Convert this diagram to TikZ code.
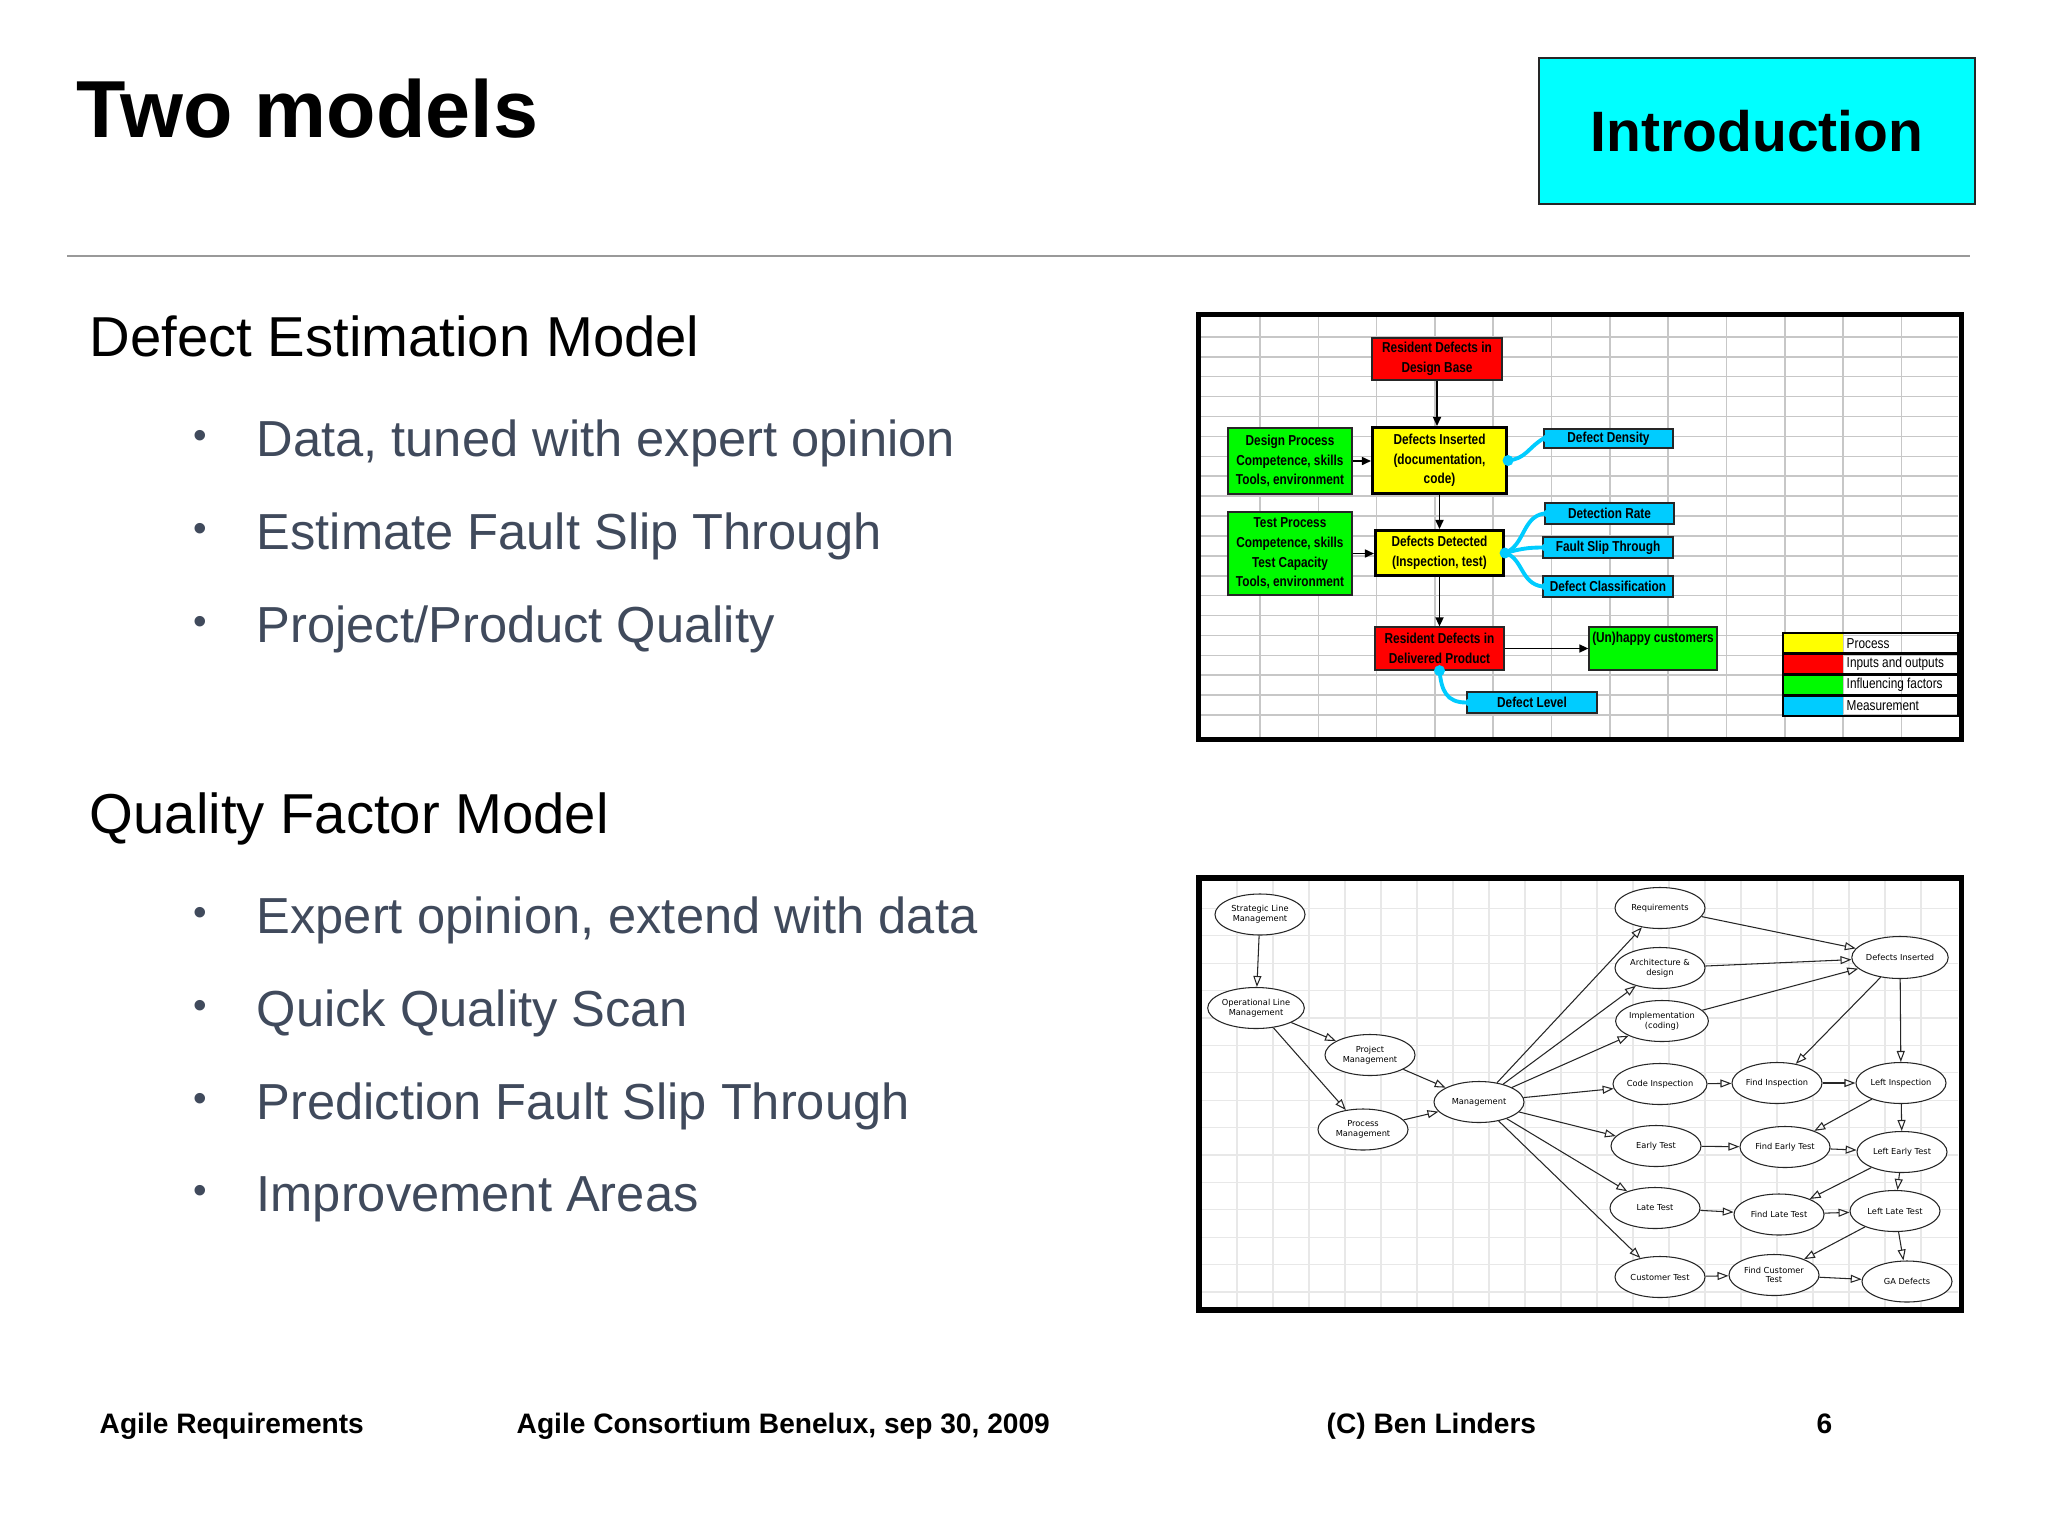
\documentclass[tikz,border=0pt]{standalone}
\usepackage{fontspec}
\setmainfont{Liberation Sans}
\newfontfamily\narrowf[FakeStretch=0.82]{Liberation Sans}
\newfontfamily\ellf{DejaVu Sans}
\usetikzlibrary{arrows.meta,shapes.geometric}
\definecolor{introcyan}{RGB}{0,255,255}
\definecolor{cyanbox}{RGB}{0,204,255}
\definecolor{redbox}{RGB}{255,0,0}
\definecolor{yellowbox}{RGB}{255,255,0}
\definecolor{greenbox}{RGB}{0,250,0}
\definecolor{bullettext}{RGB}{64,74,92}
\begin{document}
\begin{tikzpicture}[x=0.01cm,y=-0.01cm,
  heading/.style={anchor=base west, inner sep=0, font=\fontsize{16}{19}\selectfont},
  btext/.style={anchor=base west, inner sep=0, text=bullettext, font=\fontsize{14.4}{17}\selectfont},
  bul/.style={inner sep=0, text=bullettext, font=\fontsize{11}{12}\selectfont},
  foot/.style={anchor=base west, inner sep=0, font=\fontsize{8}{10}\selectfont\bfseries},
  tbox/.style={draw=black!85, line width=0.35pt, inner sep=0, align=center, font=\narrowf\bfseries\fontsize{4.1}{5.6}\selectfont},
  inout/.style={tbox, fill=redbox},
  proc/.style={tbox, fill=yellowbox, draw=black, line width=0.85pt},
  infl/.style={tbox, fill=greenbox},
  meas/.style={tbox, fill=cyanbox},
  mline/.style={draw=cyanbox, line width=1.1pt, line cap=round},
  tarr/.style={draw=black, line width=0.45pt, -{Triangle[length=0.09cm,width=0.08cm]}},
  tgrid/.style={draw=black!22, line width=0.45pt},
  bgrid/.style={draw=black!9, line width=0.3pt},
  ell/.style={ellipse, draw=black!85, line width=0.3pt, fill=white, inner sep=0, minimum width=0.9cm, minimum height=0.41cm, align=center, font=\ellf\fontsize{2.35}{2.75}\selectfont},
  oarr/.style={draw=black!85, line width=0.3pt, -{Triangle[open,length=0.11cm,width=0.08cm]}},
  legtext/.style={anchor=west, inner sep=0, font=\narrowf\fontsize{4.1}{5}\selectfont}
]
\useasboundingbox (0,0) rectangle (2048,1536);
\fill[white] (0,0) rectangle (2048,1536);

% Title and header
\node[anchor=base west, inner sep=0, font=\fontsize{23}{27}\selectfont\bfseries] (title) at (76,137) {Two models};
\node[draw=black!85, line width=0.7pt, fill=introcyan, minimum width=4.36cm, minimum height=1.46cm, inner sep=0, font=\fontsize{16.2}{19}\selectfont\bfseries] (intro) at (1757,131) {Introduction};
\draw[black!40, line width=0.6pt] (67,256) -- (1970,256);

% Left texts
\node[heading] (h1) at (89,356) {Defect Estimation Model};
\node[bul] (b1) at (200,439) {•};
\node[btext] (t1) at (256,456) {Data, tuned with expert opinion};
\node[bul] (b2) at (200,532) {•};
\node[btext] (t2) at (256,549) {Estimate Fault Slip Through};
\node[bul] (b3) at (200,625) {•};
\node[btext] (t3) at (256,642) {Project/Product Quality};

\node[heading] (h2) at (89,833) {Quality Factor Model};
\node[bul] (b4) at (200,916) {•};
\node[btext] (t4) at (256,933) {Expert opinion, extend with data};
\node[bul] (b5) at (200,1009) {•};
\node[btext] (t5) at (256,1026) {Quick Quality Scan};
\node[bul] (b6) at (200,1102) {•};
\node[btext] (t6) at (256,1119) {Prediction Fault Slip Through};
\node[bul] (b7) at (200,1194) {•};
\node[btext] (t7) at (256,1211) {Improvement Areas};

% Footer
\node[foot] (f1) at (99,1433) {Agile Requirements};
\node[foot] (f2) at (516,1433) {Agile Consortium Benelux, sep 30, 2009};
\node[foot] (f3) at (1326,1433) {(C) Ben Linders};
\node[foot] (f4) at (1816,1433) {6};

% ===== Top diagram =====
\fill[white] (1198,314) rectangle (1962,740);
\foreach \i in {0,...,11} {\draw[tgrid] ({1260+58.3*\i},317) -- ({1260+58.3*\i},737);}
\foreach \j in {1,...,20} {\draw[tgrid] (1201,{317+19.9*\j}) -- (1958,{317+19.9*\j});}
\draw[black, line width=1.45pt] (1198.5,314.5) rectangle (1961.5,739.5);

\node[inout, minimum width=1.30cm, minimum height=0.42cm] (rdb) at (1437,359) {Resident Defects in\\Design Base};
\node[proc, minimum width=1.34cm, minimum height=0.66cm] (di) at (1439.5,460.5) {Defects Inserted\\(documentation,\\code)};
\node[infl, minimum width=1.24cm, minimum height=0.66cm] (dp) at (1290,461) {Design Process\\Competence, skills\\Tools, environment};
\node[infl, minimum width=1.24cm, minimum height=0.83cm] (tp) at (1290,553.5) {Test Process\\Competence, skills\\Test Capacity\\Tools, environment};
\node[proc, minimum width=1.28cm, minimum height=0.45cm] (dd) at (1439.5,553) {Defects Detected\\(Inspection, test)};
\node[inout, minimum width=1.29cm, minimum height=0.43cm] (rdp) at (1439.5,648.5) {Resident Defects in\\Delivered Product};
\node[infl, minimum width=1.28cm, minimum height=0.43cm] (uc) at (1653,648.5) {(Un)happy customers\\[1pt]\mbox{}};
\node[meas, minimum width=1.29cm, minimum height=0.19cm] (ddens) at (1608.5,438.5) {Defect Density};
\node[meas, minimum width=1.29cm, minimum height=0.21cm] (drate) at (1609.5,513.5) {Detection Rate};
\node[meas, minimum width=1.30cm, minimum height=0.21cm] (fst) at (1608,547.5) {Fault Slip Through};
\node[meas, minimum width=1.30cm, minimum height=0.21cm] (dcl) at (1608,586.5) {Defect Classification};
\node[meas, minimum width=1.30cm, minimum height=0.21cm] (dlev) at (1532,702.5) {Defect Level};

\draw[tarr] (rdb.south) -- (rdb.south |- di.north);
\draw[tarr] (dp.east) -- (dp.east -| di.west);
\draw[tarr] (tp.east) -- (tp.east -| dd.west);
\draw[tarr] (di.south) -- (dd.north);
\draw[tarr] (dd.south) -- (rdp.north);
\draw[tarr] (rdp.east) -- (rdp.east -| uc.west);

% measurement connectors
\draw[mline] (di.east) .. controls +(18,-2) and +(-16,10) .. (ddens.west);
\draw[mline] (dd.east) .. controls +(20,-8) and +(-22,3) .. (drate.west);
\draw[mline] (dd.east) .. controls +(15,-4) and +(-15,0) .. (fst.west);
\draw[mline] (dd.east) .. controls +(18,5) and +(-22,-3) .. (dcl.west);
\draw[mline] (rdp.south) .. controls +(2,20) and +(-20,0) .. (dlev.west);
\fill[cyanbox] (di.east) circle[radius=0.055cm];
\fill[cyanbox] (dd.east) circle[radius=0.055cm];
\fill[cyanbox] (rdp.south) circle[radius=0.055cm];
\foreach \b in {ddens,drate,fst,dcl,dlev} {\fill[cyanbox] ([xshift=0.03cm]\b.west) circle[radius=0.04cm];}

% legend
\node[fill=yellowbox, minimum width=0.59cm, minimum height=0.2075cm, inner sep=0] (lg1) at (1813.5,643.4) {};
\node[fill=redbox, minimum width=0.59cm, minimum height=0.2075cm, inner sep=0] (lg2) at (1813.5,664.1) {};
\node[fill=greenbox, minimum width=0.59cm, minimum height=0.2075cm, inner sep=0] (lg3) at (1813.5,684.9) {};
\node[fill=cyanbox, minimum width=0.59cm, minimum height=0.2075cm, inner sep=0] (lg4) at (1813.5,705.6) {};
\node[legtext] (lt1) at (1846,643.4) {Process};
\node[legtext] (lt2) at (1846,664.1) {Inputs and outputs};
\node[legtext] (lt3) at (1846,684.9) {Influencing factors};
\node[legtext] (lt4) at (1846,705.6) {Measurement};
\draw[black, line width=0.75pt] (1783,633) rectangle (1958,716);
\foreach \y in {653.75,674.5,695.25} {\draw[black, line width=0.75pt] (1783,\y) -- (1958,\y);}

% ===== Bottom diagram =====
\fill[white] (1199,878) rectangle (1962,1310);
\foreach \i in {1,...,20} {\draw[bgrid] ({1201+36*\i},881) -- ({1201+36*\i},1307);}
\foreach \j in {1,...,15} {\draw[bgrid] (1202,{881+27.4*\j}) -- (1958,{881+27.4*\j});}
\draw[black, line width=1.6pt] (1199,878) rectangle (1961.5,1310);

\node[ell] (eSLM) at (1260,914.5) {Strategic Line\\Management};
\node[ell] (eOLM) at (1256,1008) {Operational Line\\Management};
\node[ell] (ePM) at (1370,1055) {Project\\Management};
\node[ell] (eMG) at (1479,1102) {Management};
\node[ell] (ePRM) at (1363,1129.5) {Process\\Management};
\node[ell] (eREQ) at (1660,908) {Requirements};
\node[ell] (eARC) at (1660,968) {Architecture \&\\design};
\node[ell] (eIMP) at (1662,1021) {Implementation\\(coding)};
\node[ell, minimum width=0.92cm, minimum height=0.42cm] (eDI) at (1900,957.5) {Defects Inserted};
\node[ell] (eCI) at (1660,1084) {Code Inspection};
\node[ell] (eFI) at (1777,1083) {Find Inspection};
\node[ell] (eLI) at (1901,1083) {Left Inspection};
\node[ell] (eET) at (1656,1146) {Early Test};
\node[ell] (eFET) at (1785,1147) {Find Early Test};
\node[ell] (eLET) at (1902,1152) {Left Early Test};
\node[ell] (eLT) at (1655,1208) {Late Test};
\node[ell] (eFLT) at (1779,1214.5) {Find Late Test};
\node[ell] (eLLT) at (1895,1211) {Left Late Test};
\node[ell] (eCT) at (1660,1277) {Customer Test};
\node[ell] (eFCT) at (1774,1275) {Find Customer\\Test};
\node[ell] (eGA) at (1907,1281.5) {GA Defects};

\draw[oarr] (eSLM) -- (eOLM);
\draw[oarr] (eOLM) -- (ePM);
\draw[oarr] (eOLM) -- (ePRM);
\draw[oarr] (ePM) -- (eMG);
\draw[oarr] (ePRM) -- (eMG);
\foreach \t in {eREQ,eARC,eIMP,eCI,eET,eLT,eCT} {\draw[oarr] (eMG) -- (\t);}
\draw[oarr] (eREQ) -- (eDI);
\draw[oarr] (eARC) -- (eDI);
\draw[oarr] (eIMP) -- (eDI);
\draw[oarr] (eDI) -- (eFI);
\draw[oarr] (eDI) -- (eLI);
\draw[oarr] (eCI) -- (eFI);
\draw[oarr] (eFI) -- (eLI);
\draw[oarr] (eLI) -- (eFET);
\draw[oarr] (eLI) -- (eLET);
\draw[oarr] (eET) -- (eFET);
\draw[oarr] (eFET) -- (eLET);
\draw[oarr] (eLET) -- (eFLT);
\draw[oarr] (eLET) -- (eLLT);
\draw[oarr] (eLT) -- (eFLT);
\draw[oarr] (eFLT) -- (eLLT);
\draw[oarr] (eLLT) -- (eFCT);
\draw[oarr] (eLLT) -- (eGA);
\draw[oarr] (eCT) -- (eFCT);
\draw[oarr] (eFCT) -- (eGA);
\end{tikzpicture}
\end{document}
